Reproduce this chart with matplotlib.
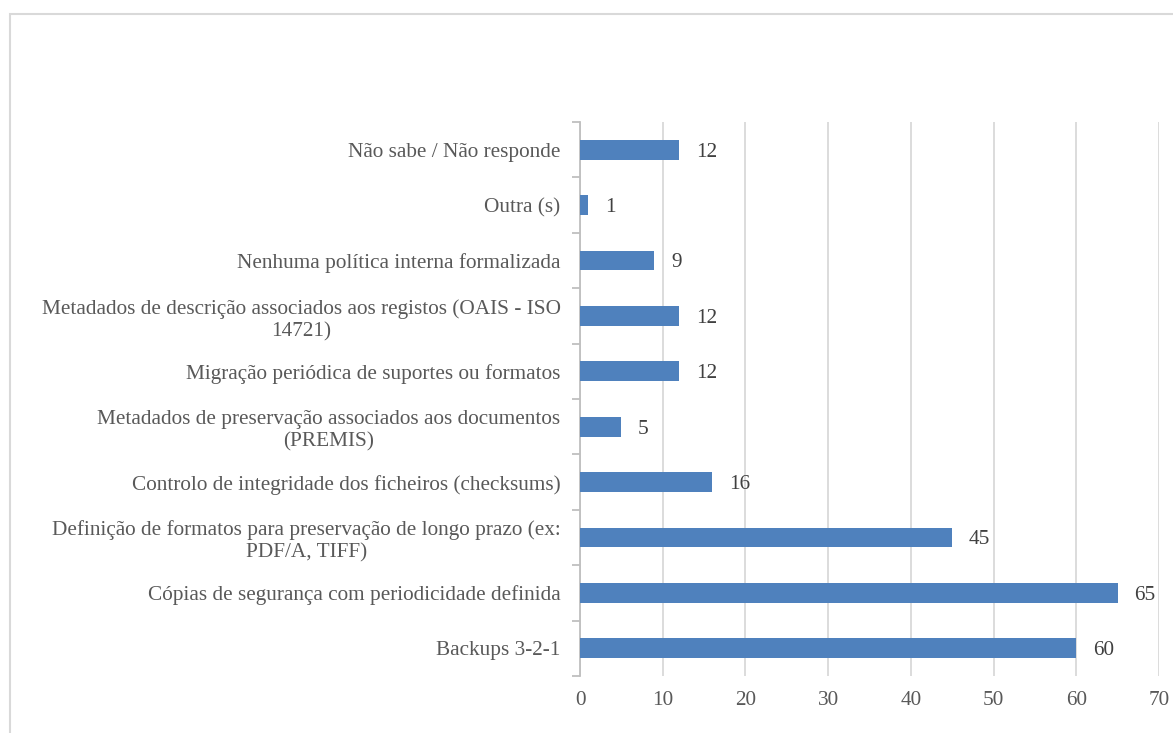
import matplotlib
matplotlib.use("Agg")
import matplotlib.pyplot as plt
from matplotlib.patches import Rectangle
import numpy as np

categories = [
    "Backups 3-2-1",
    "Cópias de segurança com periodicidade definida",
    "Definição de formatos para preservação de longo prazo (ex:\nPDF/A, TIFF)",
    "Controlo de integridade dos ficheiros (checksums)",
    "Metadados de preservação associados aos documentos\n(PREMIS)",
    "Migração periódica de suportes ou formatos",
    "Metadados de descrição associados aos registos (OAIS - ISO\n14721)",
    "Nenhuma política interna formalizada",
    "Outra (s)",
    "Não sabe / Não responde",
]
values = [60, 65, 45, 16, 5, 12, 12, 9, 1, 12]
xticks = [0, 10, 20, 30, 40, 50, 60, 70]

plt.rcParams['font.family'] = ['Liberation Serif', 'DejaVu Serif']
FS = 15.3

W, H = 1173, 733
fig = plt.figure(figsize=(W / 100, H / 100), dpi=100)
fig.patch.set_facecolor('white')

# outer frame
fig.patches.append(Rectangle((10 / W, -0.05), 1.2, (733 - 14) / H + 0.05,
                             transform=fig.transFigure, fill=False,
                             edgecolor='#d9d9d9', linewidth=1.5))

ax = fig.add_axes([580 / W, (H - 676) / H, 579 / W, 554 / H])
y = np.arange(len(categories))
ax.barh(y, values, height=0.36, color='#4f81bd', zorder=3)
ax.set_xlim(0, 70)
ax.set_ylim(-0.5, len(categories) - 0.5)
ax.set_xticks(xticks)
ax.set_xticklabels([str(t) for t in xticks], fontsize=FS, color='#595959')
ax.tick_params(axis='x', length=0, pad=11)
ax.xaxis.grid(True, color='#d9d9d9', linewidth=1.3, zorder=0)
ax.set_axisbelow(True)

ax.set_yticks(y)
ax.set_yticklabels(categories, fontsize=FS, color='#595959')
for lbl in ax.get_yticklabels():
    lbl.set_multialignment('center')
    lbl.set_linespacing(1.22)
ax.tick_params(axis='y', which='major', length=0, pad=14)
ax.set_yticks(np.arange(-0.5, len(categories), 1.0), minor=True)
ax.tick_params(axis='y', which='minor', length=6, color='#bfbfbf', width=1.3)

for s in ['top', 'right', 'bottom']:
    ax.spines[s].set_visible(False)
ax.spines['left'].set_color('#bfbfbf')
ax.spines['left'].set_linewidth(1.3)

for yi, v in zip(y, values):
    ax.annotate(str(v), xy=(v, yi), xytext=(12, 0), textcoords='offset points',
                va='center_baseline', ha='left', fontsize=FS, color='#404040')

fig.savefig('out.png', dpi=100)
